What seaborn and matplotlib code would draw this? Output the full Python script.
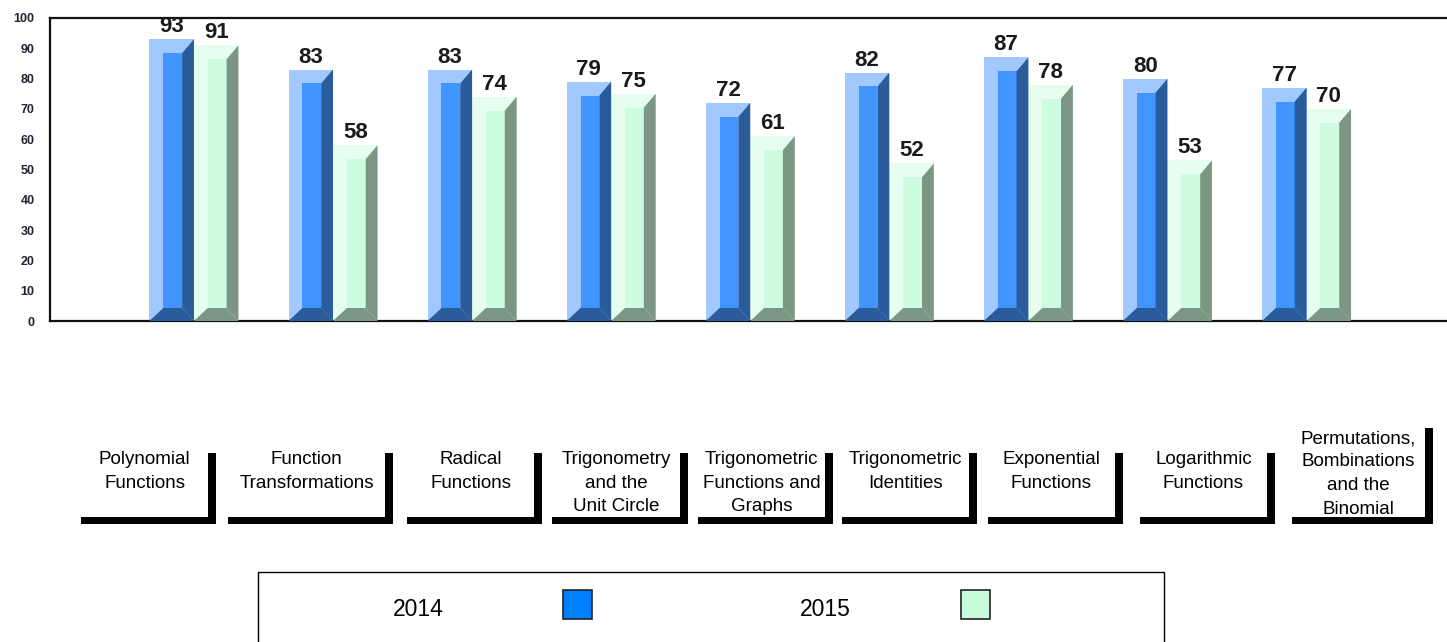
"""Two-year topic scores as 3D-looking grouped bars."""

import matplotlib
matplotlib.use("Agg")
import matplotlib.pyplot as plt
from matplotlib.patches import Polygon, Rectangle
import pandas as pd
import seaborn as sns

# data
topics = [
    "Polynomial\nFunctions",
    "Function\nTransformations",
    "Radical\nFunctions",
    "Trigonometry\nand the\nUnit Circle",
    "Trigonometric\nFunctions and\nGraphs",
    "Trigonometric\nIdentities",
    "Exponential\nFunctions",
    "Logarithmic\nFunctions",
    "Permutations,\nBombinations\nand the\nBinomial",
]
years = ["2014", "2015"]
scores_2014 = [93, 83, 83, 79, 72, 82, 87, 80, 77]
scores_2015 = [91, 58, 74, 75, 61, 52, 78, 53, 70]

# styling: (outer, inner face, shadow) per year
SHADES = {
    "2014": ("#a2c9ff", "#4294ff", "#2a5b9a"),
    "2015": ("#e6fef0", "#cefce0", "#7b9784"),
}
LEGEND_COLORS = {"2014": "#0080ff", "2015": "#c8fcdc"}

# label band boxes (left, right) in figure pixels
LABEL_BOXES = [(81, 216), (228, 393), (407, 542), (552, 688), (698, 833),
               (842, 977), (988, 1123), (1140, 1275), (1292, 1433)]

W, H = 1447, 642

df = pd.DataFrame({
    "topic": topics * 2,
    "year": [years[0]] * len(topics) + [years[1]] * len(topics),
    "score": scores_2014 + scores_2015,
})

sns.set_theme(style="white")
plt.rcParams["font.family"] = ["Liberation Sans", "DejaVu Sans"]

fig = plt.figure(figsize=(W / 100, H / 100), dpi=100)
ax = fig.add_axes([50 / W, 1 - 321 / H, (W - 50) / W, (321 - 18) / H])

sns.barplot(
    data=df, x="topic", y="score", hue="year", hue_order=years,
    palette=[SHADES[y][0] for y in years], saturation=1, width=0.64,
    legend=False, ax=ax, linewidth=0,
)

ax.set_ylim(0, 100)
ax.set_xlim(-1.035, 9.01)
ax.set_yticks(range(0, 101, 10))
ax.set_yticklabels([str(v) for v in range(0, 101, 10)],
                   fontsize=9, fontweight="bold", color="#222233")
ax.tick_params(axis="y", length=0, pad=11)
ax.set_xticks([])
ax.set_xlabel("")
ax.set_ylabel("")
ax.spines["right"].set_visible(False)
for side in ["left", "top", "bottom"]:
    ax.spines[side].set_color("#111111")
    ax.spines[side].set_linewidth(1.6)

# bevel sizes in data units (about 14 px on each side)
dl, dr = 0.10, 0.085
dt, db = 4.6, 4.3

for cont, year in zip(ax.containers, years):
    outer, inner, dark = SHADES[year]
    for bar in cont:
        x0 = bar.get_x()
        w = bar.get_width()
        x1 = x0 + w
        h = bar.get_height()
        ax.add_patch(Rectangle((x0 + dl, db), w - dl - dr, h - dt - db,
                               facecolor=inner, linewidth=0, zorder=3))
        ax.add_patch(Polygon([(x1 - dr, h - dt), (x1, h), (x1, 0), (x1 - dr, db)],
                             facecolor=dark, linewidth=0, zorder=3))
        ax.add_patch(Polygon([(x0, 0), (x0 + dl, db), (x1 - dr, db), (x1, 0)],
                             facecolor=dark, linewidth=0, zorder=3))
        ax.annotate(f"{h:.0f}", (x0 + w / 2, h), xytext=(0, 5),
                    textcoords="offset points", ha="center", va="baseline",
                    fontsize=16, fontweight="bold", color="#1a1a1a",
                    annotation_clip=False, zorder=5)


def fx(px):
    return px / W


def fy(py):
    return 1 - py / H


# category labels with L-shaped frames
for label, (left, right) in zip(topics, LABEL_BOXES):
    n_lines = label.count("\n") + 1
    top_line = 428 if n_lines > 3 else 453
    text_top = 430 if n_lines > 3 else 451
    fig.add_artist(Rectangle((fx(left), fy(524)), fx(right - left), 7 / H,
                             transform=fig.transFigure, facecolor="black",
                             linewidth=0))
    fig.add_artist(Rectangle((fx(right - 8), fy(524)), fx(8), (524 - top_line) / H,
                             transform=fig.transFigure, facecolor="black",
                             linewidth=0))
    fig.text(fx((left + right - 8) / 2), fy(text_top), label, ha="center",
             va="top", fontsize=13.5, linespacing=1.5, color="black")

# legend box
fig.add_artist(Rectangle((fx(258), fy(660)), fx(1164 - 258), (660 - 572) / H,
                         transform=fig.transFigure, facecolor="none",
                         edgecolor="black", linewidth=1))
for year, text_x, sq_x in zip(years, [418, 825], [563, 961]):
    fig.text(fx(text_x), fy(609), year, ha="center", va="center",
             fontsize=16.5, color="black")
    fig.add_artist(Rectangle((fx(sq_x), fy(619)), fx(29), 29 / H,
                             transform=fig.transFigure,
                             facecolor=LEGEND_COLORS[year],
                             edgecolor="#222222", linewidth=1.2))

fig.savefig("out.png", dpi=100)
